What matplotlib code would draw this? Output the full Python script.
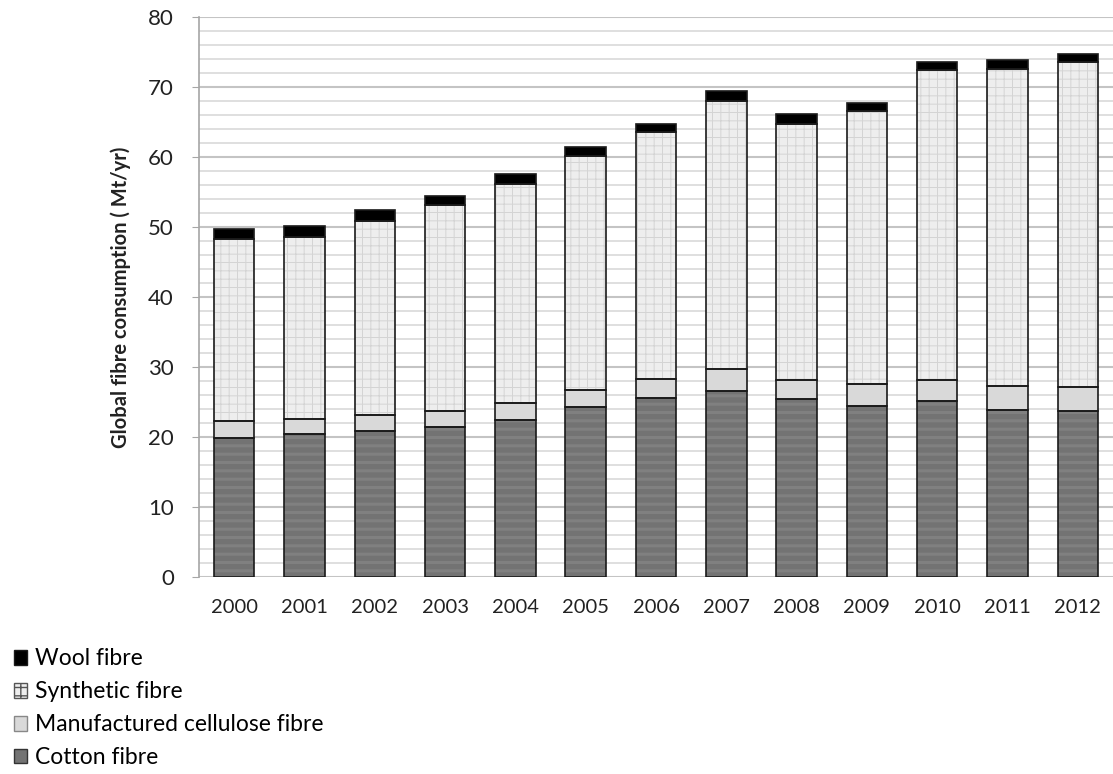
import matplotlib
matplotlib.use('Agg')
from matplotlib import pyplot as plt
from matplotlib.patches import Patch
import numpy as np

plt.rcParams['font.family'] = ['Lato', 'DejaVu Sans']

years = ['2000', '2001', '2002', '2003', '2004', '2005', '2006',
         '2007', '2008', '2009', '2010', '2011', '2012']
# Mt/yr per fibre type
cotton = [19.9, 20.4, 20.9, 21.4, 22.35, 24.2, 25.6, 26.55, 25.4, 24.4, 25.1, 23.8, 23.65]
cellulose = [2.3, 2.1, 2.2, 2.3, 2.55, 2.45, 2.7, 3.15, 2.7, 3.1, 3.1, 3.5, 3.55]
synthetic = [26.1, 26.1, 27.8, 29.4, 31.3, 33.55, 35.25, 38.4, 36.7, 39.1, 44.2, 45.35, 46.45]
wool = [1.38, 1.6, 1.5, 1.3, 1.35, 1.3, 1.25, 1.3, 1.37, 1.2, 1.25, 1.25, 1.1]

legend_names = ['Wool fibre', 'Synthetic fibre', 'Manufactured cellulose fibre', 'Cotton fibre']

fig = plt.figure()
fig.set_size_inches(11.13, 7.74)
ax = fig.add_axes([199/1113, 1-576.7/774, 1-199/1113, (576.7-17.3)/774])

x = np.arange(len(years))
w = 0.576
# data, fill, hatch colour, hatch, hatch width
series = [
    (cotton, '#737373', '#808080', '--', 2.2),
    (cellulose, '#d9d9d9', None, None, 0),
    (synthetic, '#eeeeee', '#d4d4d4', '++', 0.7),
    (wool, '#000000', None, None, 0),
]
bottom = np.zeros(len(years))
for vals, face, hcol, hatch, hlw in series:
    vals = np.array(vals)
    if hatch:
        with plt.rc_context({'hatch.linewidth': hlw}):
            ax.bar(x, vals, w, bottom=bottom, color=face, edgecolor=hcol,
                   hatch=hatch, linewidth=0, zorder=3)
    else:
        ax.bar(x, vals, w, bottom=bottom, color=face, linewidth=0, zorder=3)
    ax.bar(x, vals, w, bottom=bottom, fill=False, edgecolor='#1a1a1a',
           linewidth=1.2, zorder=4)
    bottom += vals

ax.set_xlim(-0.5, 12.5)
ax.set_ylim(0, 80)
ax.set_yticks(np.arange(0, 81, 10))
ax.set_yticks(np.arange(0, 81, 2), minor=True)
ax.grid(axis='y', which='minor', color='#dcdcdc', linewidth=1.3, zorder=0)
ax.grid(axis='y', which='major', color='#c4c4c4', linewidth=1.5, zorder=0)
ax.set_xticks(x)
ax.set_xticklabels(years, fontsize=14.5, color='#222222')
ax.tick_params(axis='x', length=0, pad=16)
ax.tick_params(axis='y', which='major', length=5, color='#a6a6a6', labelsize=16,
               labelcolor='#222222', pad=13)
ax.tick_params(axis='y', which='minor', length=0)
for s in ['top', 'right', 'bottom']:
    ax.spines[s].set_visible(False)
ax.spines['left'].set_color('#a6a6a6')
ax.spines['left'].set_linewidth(1.2)
ax.set_ylabel('Global fibre consumption ( Mt/yr)', fontsize=14.5, fontweight='bold',
              color='#222222', labelpad=12)

handles = [
    Patch(facecolor='#000000', edgecolor='#1a1a1a'),
    Patch(facecolor='#eeeeee', edgecolor='#555555', hatch='++'),
    Patch(facecolor='#d9d9d9', edgecolor='#888888'),
    Patch(facecolor='#737373', edgecolor='#333333'),
]
fig.legend(handles, legend_names, loc='upper left', bbox_to_anchor=(0.004, 0.174),
           frameon=False, fontsize=16.5, handlelength=0.6, handleheight=0.6,
           handletextpad=0.35, labelspacing=0.52, borderaxespad=0)

fig.savefig('out.png', dpi=100)
